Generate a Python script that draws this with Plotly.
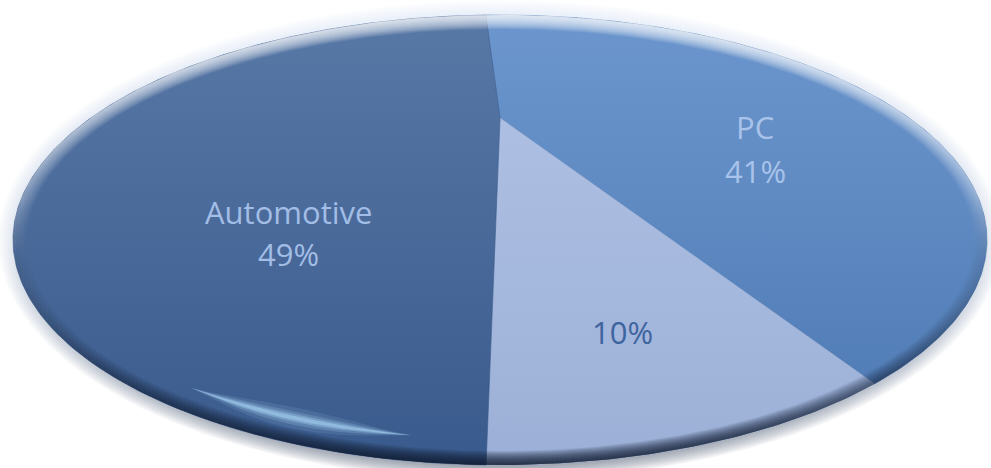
import numpy as np
import plotly.graph_objects as go

# ---------------- data ----------------
categories = ["PC", "Other", "Automotive"]
values = [41, 10, 49]
show_name = [True, False, True]

# ---------------- style ----------------
W, H = 991, 468
CX, CY, A, B = 500, 228, 487, 225          # ellipse (y axis points up)
APEX = (500, 350)                           # projected pie centre
BETA = 0.38                                 # perspective strength
THETA0 = -2.5                               # start angle (deg, clockwise from top)

slice_colors = {                            # (bottom, top) gradient colours
    "PC": ("#4C78B2", "#6C96CD"),
    "Other": ("#9CB0D7", "#B2C3E5"),
    "Automotive": ("#395A8C", "#5878A6"),
}
label_colors = {"PC": "#A9C3EA", "Other": "#3E64A0", "Automotive": "#A2BDE6"}
# (x, y_name_centre, y_pct_centre) in screen pixels
label_pos = {"PC": (755, 127, 171), "Other": (622, None, 332), "Automotive": (288, 212, 254)}
FONT = "Open Sans"
FSIZE = 31


def edge(theta_deg, inset=0.0):
    t = np.radians(theta_deg)
    u, v = np.sin(t), np.cos(t)
    d = 1 + BETA * v
    up = u * np.sqrt(1 - BETA ** 2) / d
    vp = (v + BETA) / d
    return CX + (A - inset) * up, CY + (B - inset) * vp


def ell(k, phi0=0, phi1=360, n=400):
    p = np.radians(np.linspace(phi0, phi1, n))
    return CX + (A + k) * np.cos(p), CY + (B + k) * np.sin(p)


def ring(k_out, k_in):
    ox, oy = ell(k_out)
    ix, iy = ell(k_in)
    return np.concatenate([ox, ix[::-1]]), np.concatenate([oy, iy[::-1]])


fig = go.Figure()

# outer soft glow / shadow
for k in np.arange(1.5, 16.5, 1.5):
    xs, ys = ell(k)
    fig.add_trace(go.Scatter(
        x=xs, y=ys, mode="lines", fill="toself", line=dict(width=0),
        fillgradient=dict(type="vertical",
                          colorscale=[[0, "rgba(40,55,80,0.06)"], [0.5, "rgba(150,170,200,0.03)"],
                                      [1, "rgba(185,205,238,0.035)"]],
                          start=CY - B - k, stop=CY + B + k),
        hoverinfo="skip"))

# slices
total = sum(values)
ang = THETA0
for cat, val in zip(categories, values):
    sweep = val / total * 360
    th = np.linspace(ang, ang + sweep, 300)
    ex, ey = edge(th)
    xs = np.concatenate([[APEX[0]], ex, [APEX[0]]])
    ys = np.concatenate([[APEX[1]], ey, [APEX[1]]])
    c0, c1 = slice_colors[cat]
    fig.add_trace(go.Scatter(
        x=xs, y=ys, mode="lines", fill="toself", line=dict(width=0.6, color=c0),
        fillgradient=dict(type="vertical", colorscale=[[0, c0], [1, c1]], start=CY - B, stop=CY + B),
        hoverinfo="skip"))
    ang += sweep

# inner rim: dark at bottom, soft light fade at top
for k in np.arange(1, 15, 1.0):
    xs, ys = ring(0, -k)
    fig.add_trace(go.Scatter(
        x=xs, y=ys, mode="lines", fill="toself", line=dict(width=0),
        fillgradient=dict(type="vertical",
                          colorscale=[[0, "rgba(12,22,42,0.11)"], [0.2, "rgba(20,35,60,0.06)"],
                                      [0.45, "rgba(60,80,110,0.02)"], [0.6, "rgba(255,255,255,0.03)"],
                                      [1, "rgba(255,255,255,0.10)"]],
                          start=CY - B, stop=CY + B),
        hoverinfo="skip"))

# highlight streak bottom-left (soft glow built from layered crescents)
t = np.linspace(0, 1, 200)
phi = np.radians(228 + t * 31)
for k_mid, half_w, alpha in [(26, 11, 0.12), (26, 7, 0.2), (26, 4, 0.3), (26, 2, 0.4)]:
    w = half_w * np.sin(np.pi * t) ** 1.2
    ko = k_mid - w
    ki = k_mid + w
    ox = CX + (A - ko) * np.cos(phi)
    oy = CY + (B - ko) * np.sin(phi)
    ix = CX + (A - ki) * np.cos(phi)
    iy = CY + (B - ki) * np.sin(phi)
    fig.add_trace(go.Scatter(x=np.concatenate([ox, ix[::-1]]), y=np.concatenate([oy, iy[::-1]]),
                             mode="lines", fill="toself", line=dict(width=0),
                             fillcolor=f"rgba(180,225,255,{alpha})", hoverinfo="skip"))

# labels
for cat, val, sn in zip(categories, values, show_name):
    x, yn, yp = label_pos[cat]
    pct = f"{round(val / total * 100)}%"
    if sn:
        fig.add_annotation(x=x, y=H - yn, text=cat, showarrow=False,
                           font=dict(family=FONT, size=FSIZE, color=label_colors[cat]))
    fig.add_annotation(x=x, y=H - yp, text=pct, showarrow=False,
                       font=dict(family=FONT, size=FSIZE, color=label_colors[cat]))

fig.update_layout(
    width=W, height=H, margin=dict(l=0, r=0, t=0, b=0),
    paper_bgcolor="white", plot_bgcolor="white", showlegend=False,
    xaxis=dict(range=[0, W], visible=False, fixedrange=True),
    yaxis=dict(range=[0, H], visible=False, fixedrange=True),
)
fig.write_html("out.html", config={"displayModeBar": False})
